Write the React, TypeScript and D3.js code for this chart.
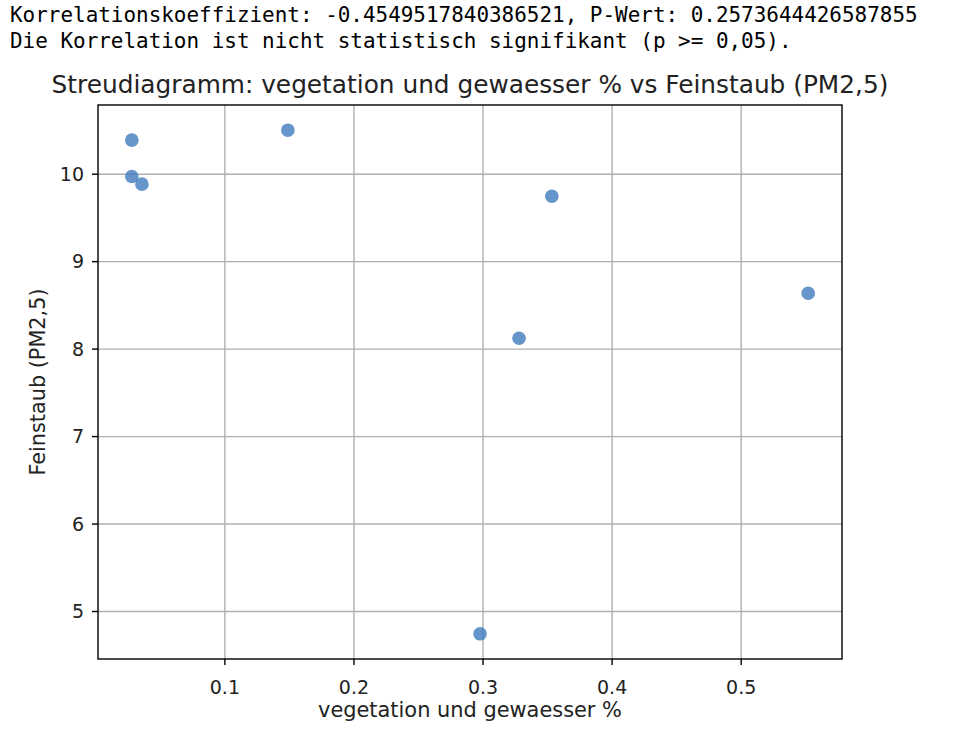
import React from "react";
import * as d3 from "d3";

const headerLines = [
  "Korrelationskoeffizient: -0.4549517840386521, P-Wert: 0.2573644426587855",
  "Die Korrelation ist nicht statistisch signifikant (p >= 0,05).",
];
const title = "Streudiagramm: vegetation und gewaesser % vs Feinstaub (PM2,5)";
const xLabel = "vegetation und gewaesser %";
const yLabel = "Feinstaub (PM2,5)";

const vegetation = [0.0279, 0.0279, 0.0357, 0.1488, 0.3533, 0.3279, 0.5519, 0.2977];
const feinstaub = [10.389, 9.974, 9.886, 10.503, 9.748, 8.124, 8.638, 4.745];
const xTicks = [0.1, 0.2, 0.3, 0.4, 0.5];
const yTicks = [5, 6, 7, 8, 9, 10];

const W = 956;
const H = 738;
const M = { left: 98, right: 842, top: 105, bottom: 659 };

function padded(vals: number[]): [number, number] {
  const mn = d3.min(vals) as number;
  const mx = d3.max(vals) as number;
  const p = (mx - mn) * 0.05;
  return [mn - p, mx + p];
}

export default function App() {
  const x = d3.scaleLinear().domain(padded(vegetation)).range([M.left, M.right]);
  const y = d3.scaleLinear().domain(padded(feinstaub)).range([M.bottom, M.top]);
  const font = "'DejaVu Sans', sans-serif";
  const mono = "'DejaVu Sans Mono', monospace";
  const cx = (M.left + M.right) / 2;
  const cy = (M.top + M.bottom) / 2;
  return (
    <svg width={W} height={H} style={{ position: "absolute", left: 0, top: 0, background: "#fff" }}>
      <rect x={0} y={0} width={W} height={H} fill="#fff" />
      {headerLines.map((t, i) => (
        <text key={i} x={10} y={22 + i * 25.5} fontFamily={mono} fontSize={20.95} fill="#000">
          {t}
        </text>
      ))}
      <text x={cx} y={93} textAnchor="middle" fontFamily={font} fontSize={24.8} fill="#222">
        {title}
      </text>
      {xTicks.map((t) => (
        <line key={"gx" + t} x1={x(t)} x2={x(t)} y1={M.top} y2={M.bottom} stroke="#b0b0b0" strokeWidth={1.4} />
      ))}
      {yTicks.map((t) => (
        <line key={"gy" + t} x1={M.left} x2={M.right} y1={y(t)} y2={y(t)} stroke="#b0b0b0" strokeWidth={1.4} />
      ))}
      {vegetation.map((v, i) => (
        <circle key={i} cx={x(v)} cy={y(feinstaub[i])} r={6.8} fill="#3f7bbd" fillOpacity={0.8} />
      ))}
      <rect x={M.left} y={M.top} width={M.right - M.left} height={M.bottom - M.top} fill="none" stroke="#000" strokeWidth={1.4} />
      {xTicks.map((t) => (
        <g key={"xt" + t}>
          <line x1={x(t)} x2={x(t)} y1={M.bottom} y2={M.bottom + 6} stroke="#000" strokeWidth={1.4} />
          <text x={x(t)} y={M.bottom + 35} textAnchor="middle" fontFamily={font} fontSize={19} fill="#222">
            {d3.format(".1f")(t)}
          </text>
        </g>
      ))}
      {yTicks.map((t) => (
        <g key={"yt" + t}>
          <line x1={M.left - 6} x2={M.left} y1={y(t)} y2={y(t)} stroke="#000" strokeWidth={1.4} />
          <text x={M.left - 14} y={y(t)} dy="0.36em" textAnchor="end" fontFamily={font} fontSize={19} fill="#222">
            {t}
          </text>
        </g>
      ))}
      <text x={cx} y={717} textAnchor="middle" fontFamily={font} fontSize={20.9} fill="#222">
        {xLabel}
      </text>
      <text
        transform={`translate(45,${cy}) rotate(-90)`}
        textAnchor="middle"
        fontFamily={font}
        fontSize={20.8}
        fill="#222"
      >
        {yLabel}
      </text>
    </svg>
  );
}
